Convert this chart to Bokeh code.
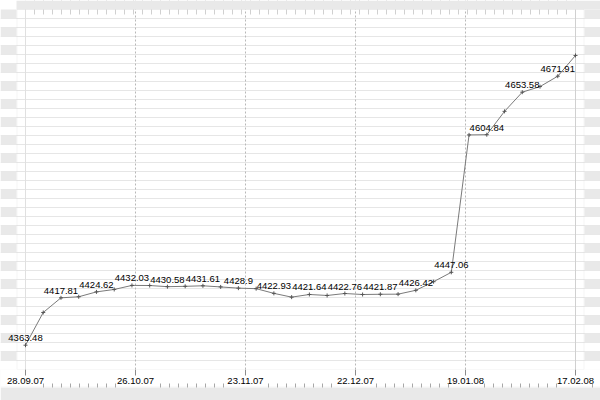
from bokeh.plotting import figure
from bokeh.models import (FixedTicker, LinearAxis, Grid, Range1d, LabelSet,
                          ColumnDataSource, BoxAnnotation)
from bokeh.embed import file_html
from bokeh.resources import INLINE
from bokeh.core.properties import value

# ---- data ----
tick_dates = ["28.09.07", "26.10.07", "23.11.07", "22.12.07", "19.01.08", "17.02.08"]
values = [4363.48, 4401.0, 4417.81, 4419.0, 4424.62, 4427.4, 4432.03, 4431.9,
          4430.58, 4431.0, 4431.61, 4430.3, 4428.9, 4428.3, 4422.93, 4418.6,
          4421.64, 4420.5, 4422.76, 4421.6, 4421.87, 4422.0, 4426.42, 4436.3,
          4447.06, 4604.6, 4604.84, 4631.6, 4653.58, 4660.0, 4671.91, 4695.7]
x = list(range(len(values)))

n_int = len(values) - 1
major = [i * n_int / 5 for i in range(6)]
minor = [k * n_int / 61 for k in range(62)]

# ---- geometry (pixels) ----
W, H = 600, 400
PL, PR, PT, PB = 16, 583, 9, 369          # inner plot box
DL, DR = 25, 575                          # data area left/right
s = (DR - DL) / n_int                     # px per x unit
y0, y1 = 4335.62, 4748.39                 # values at PB and PT
pys = (PB - PT) / (y1 - y0)


def xd(px):
    return (px - DL) / s


def yd(py):
    return y1 - (py - PT) / pys


ygrid = [y0 + k * (y1 - y0) / 40 for k in range(1, 40)]
minor_bottom_all = [xd(PL + 9 * k) for k in range(0, 70) if PL + 9 * k <= W]
minor_bottom = [m for m in minor_bottom_all
                if min(abs(m - t) for t in major) > 0.95]

GREY = "#e9e9e9"

p = figure(width=W, height=H, output_backend="svg", toolbar_location=None,
           x_range=Range1d(xd(0), xd(W)), y_range=Range1d(y0, yd(0)),
           x_axis_location="below", y_axis_location=None,
           min_border_left=0, min_border_right=0, min_border_top=0,
           min_border_bottom=H - PB)
p.background_fill_color = "white"
p.outline_line_color = None
p.xgrid.visible = False
p.ygrid.visible = False

# grids
p.add_layout(Grid(dimension=1, ticker=FixedTicker(ticks=ygrid), bounds=(xd(PL), xd(PR)),
                  grid_line_color="#e6e6e6", grid_line_width=1))
p.add_layout(Grid(dimension=0, ticker=FixedTicker(ticks=major[1:-1]), bounds=(y0, y1),
                  grid_line_color="#b8b8b8", grid_line_dash="2 2", grid_line_width=1))
p.add_layout(Grid(dimension=0, ticker=FixedTicker(ticks=[major[0]]), bounds=(y0, y1),
                  grid_line_color="#e0e0e0", grid_line_width=1))
p.add_layout(Grid(dimension=0, ticker=FixedTicker(ticks=[major[-1]]), bounds=(y0, y1),
                  grid_line_color="#d0d0d0", grid_line_width=1))

# decorative border: grey band on top and striped side columns
p.add_layout(BoxAnnotation(left=xd(PL), right=xd(W), top=yd(0), bottom=yd(PT),
                           fill_color=GREY, fill_alpha=1, line_color=None))
for k in range(20):
    top, bot = yd(PT + 18 * k), yd(PT + 18 * k + 9)
    p.add_layout(BoxAnnotation(left=xd(0), right=xd(PL), top=top, bottom=bot,
                               fill_color=GREY, fill_alpha=1, line_color=None))
    p.add_layout(BoxAnnotation(left=xd(PR + 1), right=xd(W), top=top, bottom=bot,
                               fill_color=GREY, fill_alpha=1, line_color=None))
p.add_layout(BoxAnnotation(left=xd(PL + 0.5), right=xd(PR + 0.5), top=y1, bottom=y0,
                           fill_color=None, fill_alpha=0, line_color="#dcdcdc",
                           line_width=1))

# bottom axis with date labels
ax = p.xaxis[0]
ax.ticker = FixedTicker(ticks=major, minor_ticks=[])
ax.major_label_overrides = {t: d for t, d in zip(major, tick_dates)}
ax.major_tick_out = 6
ax.major_tick_in = 0
ax.minor_tick_out = 0
ax.minor_tick_in = 0
ax.major_tick_line_color = "#8c8c8c"
ax.axis_line_color = None
ax.major_label_standoff = 2
ax.major_label_text_font = "Liberation Sans"
ax.major_label_text_font_size = "9.5px"
ax.major_label_text_color = "#000000"

# second bottom axis: only minor ticks under the labels
ax2 = LinearAxis(ticker=FixedTicker(ticks=[], minor_ticks=minor_bottom),
                 axis_line_color=None, major_tick_in=0, major_tick_out=0,
                 minor_tick_in=3, minor_tick_out=1, minor_tick_line_color="#a8a8a8",
                 major_label_text_font_size="0px")
p.add_layout(ax2, "below")

# grey strip at the very bottom: border grey, axes painted white
if "background_fill_color" in ax.properties():
    p.border_fill_color = GREY
    ax.background_fill_color = "white"
    ax2.background_fill_color = "white"
else:
    p.border_fill_color = "white"

# top axis: minor ticks pointing into the plot (upper part hidden by grey band)
ax3 = LinearAxis(ticker=FixedTicker(ticks=[], minor_ticks=minor[1:-1]),
                 axis_line_color=None, major_tick_in=0, major_tick_out=0,
                 minor_tick_in=PT + 5, minor_tick_out=0, minor_tick_line_color="#d0d0d0",
                 major_label_text_font_size="0px")
p.add_layout(ax3, "above")

# series
p.line(x, values, line_color="#7a7a7a", line_width=1)
p.scatter(x, values, marker="cross", size=4, line_color="#555555", line_width=1)

src = ColumnDataSource(dict(x=x[::2], y=values[::2],
                            t=[f"{v:g}" for v in values[::2]]))
p.add_layout(LabelSet(x="x", y="y", text="t", source=src,
                      text_font=value("Liberation Sans"), text_font_size="9.5px",
                      text_align="center", text_baseline="alphabetic",
                      y_offset=4, text_color="#000000"))

open("out.html", "w").write(file_html(p, INLINE))
